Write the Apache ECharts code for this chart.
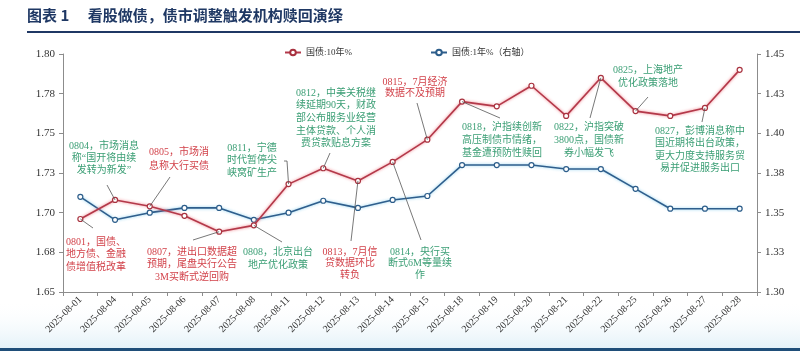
<!DOCTYPE html>
<html>
<head>
<meta charset="utf-8">
<script src="https://cdn.jsdelivr.net/npm/echarts@6/dist/echarts.min.js"></script>
<style>
  html, body { margin: 0; padding: 0; background: #fff; }
  #chart { width: 800px; height: 351px; }
</style>
</head>
<body>
<div id="chart"></div>
<script>
// 日期
const dates = ['2025-08-01', '2025-08-04', '2025-08-05', '2025-08-06', '2025-08-07', '2025-08-08',
  '2025-08-11', '2025-08-12', '2025-08-13', '2025-08-14', '2025-08-15', '2025-08-18',
  '2025-08-19', '2025-08-20', '2025-08-21', '2025-08-22', '2025-08-25', '2025-08-26',
  '2025-08-27', '2025-08-28']
// 国债:10年%
const cgb10y = [1.696, 1.708, 1.704, 1.698, 1.688, 1.692, 1.718, 1.728, 1.720, 1.732,
  1.746, 1.770, 1.767, 1.780, 1.761, 1.785, 1.764, 1.761, 1.766, 1.790]
// 国债:1年%（右轴）
const cgb1y = [1.360, 1.3455, 1.350, 1.353, 1.353, 1.3455, 1.350, 1.3575, 1.353, 1.358,
  1.3605, 1.380, 1.380, 1.380, 1.3775, 1.3775, 1.365, 1.3525, 1.3525, 1.3525]
const leftTicks = [1.65, 1.80, 0.025]
const rightTicks = [1.30, 1.45, 0.025]

const RED = '#d2424a'
const GREEN = '#3a9e74'

// 事件标注: 文本位置 + 指向哪个点
const notes = [
  { lines: ['0801，国债、', '地方债、金融', '债增值税改革'], color: RED, x: 96, y: 242, lh: 12.7, at: 0, from: [93, 228] },
  { lines: ['0804，市场消息', '称“国开将由续', '发转为新发”'], color: GREEN, x: 104, y: 146, lh: 12.2, at: 1, from: [107, 185] },
  { lines: ['0805，市场消', '息称大行买债'], color: RED, x: 179, y: 152, lh: 14.5, at: 2, from: [170, 177] },
  { lines: ['0807，进出口数据超', '预期，尾盘央行公告', '3M买断式逆回购'], color: RED, x: 192, y: 252, lh: 12.7, at: 4, from: [193, 240] },
  { lines: ['0808，北京出台', '地产优化政策'], color: GREEN, x: 278, y: 252, lh: 13, at: 5, from: [282, 242] },
  { lines: ['0811，宁德', '时代暂停尖', '峡窝矿生产'], color: GREEN, x: 252, y: 148, lh: 12.7, at: 6, from: [284, 161], via: [287, 161] },
  { lines: ['0812，中美关税继', '续延期90天，财政', '部公布服务业经营', '主体贷款、个人消', '费贷款贴息方案'], color: GREEN, x: 336, y: 93, lh: 12.7, at: 7, from: [330, 153] },
  { lines: ['0813，7月信', '贷数据环比', '转负'], color: RED, x: 350, y: 252, lh: 11.8, at: 8, from: [351, 241] },
  { lines: ['0814，央行买', '断式6M等量续', '作'], color: GREEN, x: 420, y: 252, lh: 11.8, at: 9, from: [421, 240] },
  { lines: ['0815，7月经济', '数据不及预期'], color: RED, x: 415, y: 82, lh: 11.8, at: 10, from: [417, 103] },
  { lines: ['0818，沪指续创新', '高压制债市情绪，', '基金遭预防性赎回'], color: GREEN, x: 502, y: 127, lh: 13, at: 11, from: [500, 118] },
  { lines: ['0822，沪指突破', '3800点，国债新', '券小幅发飞'], color: GREEN, x: 589, y: 127, lh: 13.4, at: 15, from: [590, 118] },
  { lines: ['0825，上海地产', '优化政策落地'], color: GREEN, x: 648, y: 70, lh: 13, at: 16, from: [648, 97] },
  { lines: ['0827，彭博消息称中', '国近期将出台政策，', '更大力度支持服务贸', '易并促进服务出口'], color: GREEN, x: 700, y: 131, lh: 12.6, at: 18, from: [702, 122] }
]

const serif = '"Liberation Serif", "Noto Sans CJK SC", serif'

function fmt2 (v) {
  return (Math.round(v * 100 + 1e-6) / 100).toFixed(2)
}

const chart = echarts.init(document.getElementById('chart'), null, { renderer: 'canvas' })

const lineGlow = (color, glow) => ({
  color: color,
  width: 1.6,
  shadowColor: glow,
  shadowBlur: 3
})

const option = {
  backgroundColor: '#fff',
  animation: false,
  legend: {
    top: 43,
    left: 279,
    itemWidth: 16,
    itemHeight: 7,
    itemGap: 78,
    textStyle: { fontFamily: serif, fontSize: 9, color: '#333' },
    data: ['国债:10年%', '国债:1年%（右轴）']
  },
  grid: { left: 63, right: 43, top: 54, bottom: 59 },
  xAxis: {
    type: 'category',
    data: dates,
    boundaryGap: true,
    axisLine: { lineStyle: { color: '#8c8c8c' } },
    axisTick: { show: true, alignWithLabel: false, length: 4, lineStyle: { color: '#8c8c8c' } },
    axisLabel: { rotate: 45, fontFamily: serif, fontSize: 10, color: '#333', margin: 6, interval: 0 }
  },
  yAxis: [
    {
      type: 'value',
      min: leftTicks[0],
      max: leftTicks[1],
      interval: leftTicks[2],
      splitLine: { show: false },
      axisLine: { show: true, lineStyle: { color: '#8c8c8c' } },
      axisTick: { show: true, length: 4, lineStyle: { color: '#8c8c8c' } },
      axisLabel: { formatter: fmt2, fontFamily: serif, fontSize: 11, color: '#333', margin: 8 }
    },
    {
      type: 'value',
      min: rightTicks[0],
      max: rightTicks[1],
      interval: rightTicks[2],
      position: 'right',
      splitLine: { show: false },
      axisLine: { show: true, lineStyle: { color: '#8c8c8c' } },
      axisTick: { show: true, length: 4, lineStyle: { color: '#8c8c8c' } },
      axisLabel: { formatter: fmt2, fontFamily: serif, fontSize: 11, color: '#333', margin: 8 }
    }
  ],
  series: [
    {
      name: '国债:10年%',
      type: 'line',
      data: cgb10y,
      yAxisIndex: 0,
      symbol: 'circle',
      symbolSize: 5,
      itemStyle: { color: '#fff', borderColor: '#a8323f', borderWidth: 1.2 },
      lineStyle: lineGlow('#b3394a', 'rgba(240,110,120,0.9)'),
      z: 3
    },
    {
      name: '国债:1年%（右轴）',
      type: 'line',
      data: cgb1y,
      yAxisIndex: 1,
      symbol: 'circle',
      symbolSize: 5,
      itemStyle: { color: '#fff', borderColor: '#2c5d8a', borderWidth: 1.2 },
      lineStyle: lineGlow('#2f5e8c', 'rgba(120,200,235,0.9)'),
      z: 2
    }
  ]
}
chart.setOption(option)

// 标题、装饰线、标注文字与引线
function buildGraphics () {
  const g = [
    {
      type: 'rect',
      shape: { x: 0, y: 300, width: 800, height: 48 },
      style: {
        fill: new echarts.graphic.LinearGradient(0, 0, 0, 1, [
          { offset: 0, color: 'rgba(255,255,255,0)' },
          { offset: 1, color: 'rgba(225,240,248,0.9)' }
        ])
      },
      silent: true,
      z: -10
    },
    {
      type: 'text',
      left: 27,
      top: 8,
      style: {
        text: '图表 1　 看股做债，债市调整触发机构赎回演绎',
        font: 'bold 15px "Noto Sans CJK SC", sans-serif',
        fill: '#1f3864'
      }
    },
    { type: 'rect', shape: { x: 27, y: 31, width: 773, height: 2 }, style: { fill: '#1f3864' } },
    { type: 'rect', shape: { x: 0, y: 348, width: 800, height: 3 }, style: { fill: '#1f4e79' } }
  ]

  notes.forEach(n => {
    const p = chart.convertToPixel({ seriesIndex: 0 }, [n.at, cgb10y[n.at]])
    const pts = [n.from]
    if (n.via) pts.push(n.via)
    pts.push(p)
    g.push({
      type: 'polyline',
      shape: { points: pts },
      style: { stroke: '#555', lineWidth: 0.8, fill: null },
      z: 5
    })
    n.lines.forEach((t, i) => {
      g.push({
        type: 'text',
        x: n.x,
        y: n.y + i * n.lh,
        style: {
          text: t,
          fill: n.color,
          font: '10px ' + serif,
          textAlign: 'center',
          textVerticalAlign: 'middle'
        },
        z: 6
      })
    })
  })
  return g
}

chart.setOption({ graphic: buildGraphics() })
</script>
</body>
</html>
